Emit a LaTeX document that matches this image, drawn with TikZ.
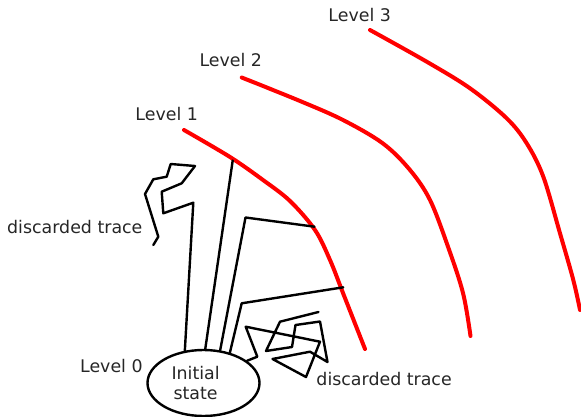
\documentclass[tikz,border=0pt]{standalone}
\usepackage{fontspec}
\setmainfont{DejaVu Sans}
\usetikzlibrary{shapes.geometric}
\begin{document}
\begin{tikzpicture}[x=1pt,y=-1pt,
  lab/.style={font=\fontsize{17.4}{20.5}\selectfont, text=black!85, inner sep=0pt},
  trace/.style={draw=black, line width=2.4pt, line join=round, line cap=round},
  level/.style={draw=red, line width=4pt, line cap=round, line join=round}]
\useasboundingbox (0,0) rectangle (581,417);

% levels
\draw[level] plot[smooth, tension=0.55] coordinates {(184,130) (230,157) (263,180) (290,201) (315,230) (330,260) (343,293) (365,349)};
\draw[level] plot[smooth, tension=0.55] coordinates {(241.7,77.5) (300,101) (343,120) (383,143.5) (410,170) (430,200) (448,246.7) (463,293) (470.5,336)};
\draw[level] plot[smooth, tension=0.55] coordinates {(370,30) (426.7,61.7) (470,88.3) (506.7,118.3) (526.7,143.3) (543.3,176.7) (560,233.3) (573.3,280) (580,310)};

\node[lab, anchor=base] (l3) at (359.7,21.7) {Level 3};
\node[lab, anchor=base] (l2) at (230.8,66.7) {Level 2};
\node[lab, anchor=base] (l1) at (166.7,121) {Level 1};
\node[lab, anchor=base] (l0) at (111.4,372.7) {Level 0};
\node[lab, anchor=base] (d1) at (74.8,233.3) {discarded trace};
\node[lab, anchor=base] (d2) at (384.1,385) {discarded trace};

% initial state
\node[ellipse, draw, line width=2.4pt, minimum width=112pt, minimum height=66pt, inner sep=0pt] (init) at (203.5,383) {};
\node[lab, align=center] (initlab) at (195.6,383) {Initial\\state};

% hit points on level 1
\coordinate (h1) at (232.7,160.5);
\coordinate (h2) at (314.5,226.7);
\coordinate (h3) at (343.3,287.3);

% trace to the left (discarded)
\draw[trace] (init.120.6) -- (193.3,202.7) -- (163.3,213.3) -- (161.7,191.7) -- (181.7,183.3) -- (195,166) -- (170.7,164) -- (166.7,176.7) -- (153.3,179.3) -- (145,194) -- (158.3,236.7) -- (153.3,245);

% successful traces
\draw[trace] (init.87.3) -- (h1);
\draw[trace] (init.63.4) -- (245.5,217.5) -- (h2);
\draw[trace] (init.49.5) -- (241.7,303.3) -- (h3);

% trace to the right (discarded)
\draw[trace] (init.27.8) -- (257.3,356.7) -- (245.7,326.7) -- (320,341.7) -- (306,377) -- (272.5,359) -- (310,351.7) -- (327.5,362) -- (320,321.5) -- (295.5,325) -- (292,347) -- (266,351) -- (280,321.7) -- (318.5,312);
\end{tikzpicture}
\end{document}
